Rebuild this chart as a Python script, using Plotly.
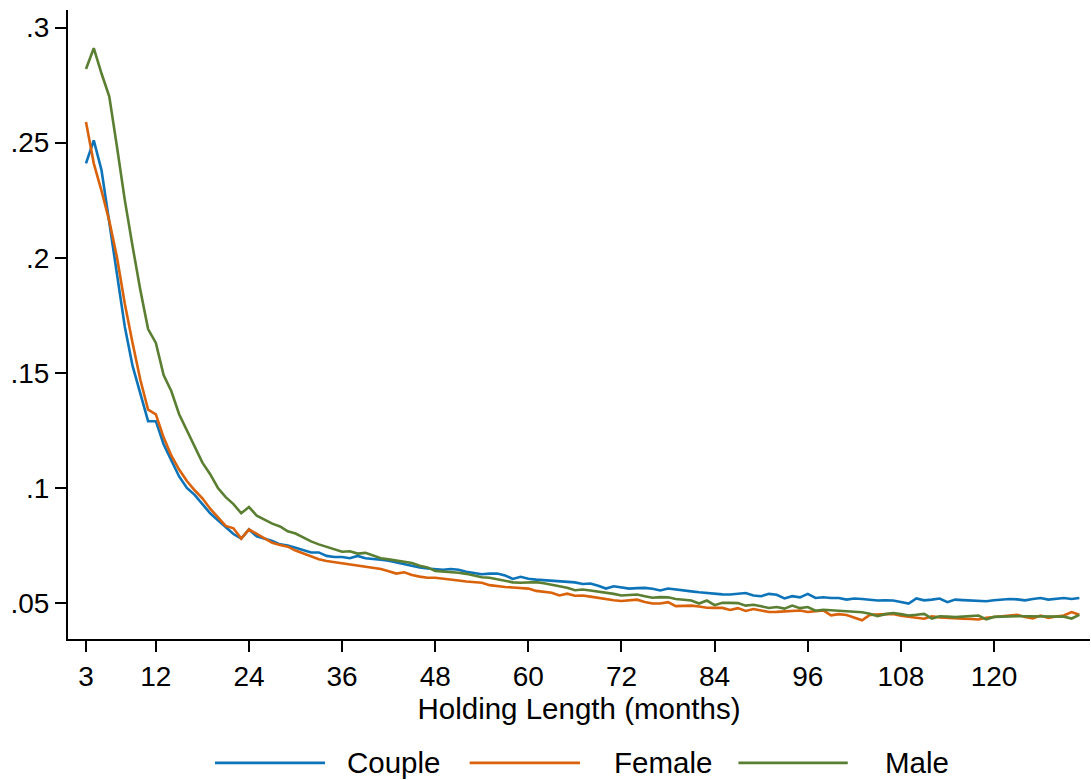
import plotly.graph_objects as go

months = list(range(3, 132))

couple = [
    0.241, 0.251, 0.238, 0.216, 0.193, 0.170, 0.153, 0.141, 0.129, 0.129,
    0.119, 0.112, 0.105, 0.100, 0.097, 0.093, 0.089, 0.086, 0.083, 0.080,
    0.078, 0.082, 0.079, 0.078, 0.077, 0.0755, 0.075, 0.074, 0.073, 0.072,
    0.072, 0.0705, 0.070, 0.070, 0.0695, 0.0705, 0.0695, 0.069, 0.0688, 0.0684,
    0.0677, 0.067, 0.066, 0.0655, 0.065, 0.0648, 0.0645, 0.0648, 0.0645, 0.0636,
    0.0632, 0.0625, 0.0628, 0.0628, 0.062, 0.0605, 0.0614, 0.0606, 0.0602, 0.060,
    0.0598, 0.0595, 0.0595, 0.059, 0.0583, 0.0585, 0.0575, 0.0563, 0.0573, 0.0568,
    0.0563, 0.0565, 0.0566, 0.0562, 0.0555, 0.0563, 0.0558, 0.0554, 0.0551, 0.0547,
    0.0543, 0.054, 0.0538, 0.0537, 0.0542, 0.0544, 0.0533, 0.053, 0.054, 0.0536,
    0.052, 0.053, 0.0525, 0.054, 0.0522, 0.0525, 0.0522, 0.0522, 0.0515, 0.052,
    0.0518, 0.0513, 0.0511, 0.0512, 0.0511, 0.0505, 0.0498, 0.052, 0.0512, 0.0515,
    0.052, 0.0504, 0.0515, 0.0513, 0.0512, 0.0508, 0.0508, 0.0512, 0.0515, 0.0518,
    0.0516, 0.0512, 0.0518, 0.0522, 0.0515, 0.0518, 0.0522, 0.0518, 0.0522,
]

female = [
    0.259, 0.241, 0.229, 0.216, 0.200, 0.180, 0.163, 0.147, 0.134, 0.132,
    0.122, 0.114, 0.108, 0.103, 0.099, 0.0955, 0.091, 0.087, 0.0835, 0.0825,
    0.078, 0.082, 0.080, 0.078, 0.0762, 0.0752, 0.0745, 0.0728, 0.0715, 0.0702,
    0.069, 0.0683, 0.0678, 0.0672, 0.0668, 0.0665, 0.066, 0.0652, 0.0648, 0.0638,
    0.0628, 0.0634, 0.0622, 0.0615, 0.061, 0.061, 0.0607, 0.0603, 0.0598, 0.0594,
    0.0592, 0.0588, 0.0578, 0.0573, 0.057, 0.0568, 0.0565, 0.0563, 0.0553, 0.055,
    0.0545, 0.0533, 0.0541, 0.0532, 0.0533, 0.0528, 0.0522, 0.0518, 0.0512, 0.0509,
    0.0512, 0.0515, 0.0505, 0.0498, 0.0498, 0.0504, 0.0487, 0.0488, 0.0489, 0.0485,
    0.048, 0.0479, 0.0479, 0.047, 0.0478, 0.0466, 0.0474, 0.0468, 0.0461, 0.0462,
    0.0464, 0.0466, 0.0468, 0.0461, 0.0465, 0.0468, 0.0447, 0.0452, 0.0448, 0.0437,
    0.0425, 0.0449, 0.0451, 0.0452, 0.0453, 0.0445, 0.0439, 0.0436, 0.0432, 0.0443,
    0.0438, 0.0435, 0.0433, 0.0432, 0.0431, 0.0429, 0.0436, 0.0439, 0.0443, 0.0446,
    0.0449, 0.044, 0.0433, 0.0446, 0.0436, 0.0442, 0.0446, 0.0461, 0.0449,
]

male = [
    0.282, 0.291, 0.280, 0.270, 0.248, 0.225, 0.205, 0.186, 0.169, 0.163,
    0.149, 0.142, 0.132, 0.125, 0.118, 0.111, 0.106, 0.100, 0.096, 0.093,
    0.089, 0.0917, 0.088, 0.0862, 0.0845, 0.0833, 0.0812, 0.0802, 0.0785, 0.0768,
    0.0755, 0.0745, 0.0735, 0.0723, 0.0725, 0.0715, 0.0718, 0.0705, 0.0695, 0.069,
    0.0684, 0.068, 0.0674, 0.0662, 0.0655, 0.064, 0.0638, 0.0636, 0.0632, 0.0627,
    0.0618, 0.0612, 0.061, 0.0604, 0.0597, 0.059, 0.0588, 0.0588, 0.0591, 0.0586,
    0.058, 0.0572, 0.0567, 0.0556, 0.0559, 0.0555, 0.0551, 0.0547, 0.054, 0.0533,
    0.0536, 0.0537, 0.053, 0.0523, 0.0526, 0.0525, 0.0518, 0.0513, 0.0511, 0.0498,
    0.0511, 0.0491, 0.0501, 0.0501, 0.05, 0.0489, 0.0493, 0.0486, 0.0479, 0.0483,
    0.0476, 0.0489, 0.0478, 0.0483, 0.0467, 0.0471, 0.0469, 0.0467, 0.0465, 0.0462,
    0.046, 0.0454, 0.0443, 0.0452, 0.0457, 0.0452, 0.0446, 0.0449, 0.0453, 0.0433,
    0.0443, 0.0441, 0.0439, 0.0441, 0.0444, 0.0446, 0.0429, 0.044, 0.0441, 0.0443,
    0.0443, 0.0443, 0.0443, 0.0443, 0.0444, 0.0443, 0.0441, 0.0433, 0.0449,
]

series_names = ["Couple", "Female", "Male"]
series_values = [couple, female, male]
colors = ["#0e74b9", "#d9620b", "#5b7f32"]

x_tickvals = [3, 12, 24, 36, 48, 60, 72, 84, 96, 108, 120]
y_tickvals = [0.05, 0.1, 0.15, 0.2, 0.25, 0.3]
y_ticktext = [".05", ".1", ".15", ".2", ".25", ".3"]
x_title = "Holding Length (months)"

FONT = "Liberation Sans, Arial, Helvetica, sans-serif"
FS = 28
FS_TITLE = 29.5

fig = go.Figure()
for name, vals, col in zip(series_names, series_values, colors):
    fig.add_trace(go.Scatter(
        x=months, y=vals, mode="lines", name=name,
        line=dict(color=col, width=2.6), showlegend=False,
    ))

# custom legend (long line samples like Stata)
leg_y = -0.197
leg_items = [(0.1438, 0.2515, 0.271), (0.393, 0.501, 0.532), (0.656, 0.763, 0.797)]
for (x0, x1, xt), name, col in zip(leg_items, series_names, colors):
    fig.add_shape(type="line", xref="paper", yref="paper", x0=x0, x1=x1,
                  y0=leg_y, y1=leg_y, line=dict(color=col, width=2.6))
    fig.add_annotation(xref="paper", yref="paper", x=xt, y=leg_y, text=name,
                       showarrow=False, xanchor="left", yanchor="middle",
                       font=dict(family=FONT, size=FS_TITLE, color="black"))

fig.update_layout(
    width=1091, height=780,
    margin=dict(l=68, r=1, t=10, b=141),
    paper_bgcolor="white", plot_bgcolor="white",
    font=dict(family=FONT, size=FS, color="black"),
)
fig.update_xaxes(
    range=[0.68, 132.37], tickvals=x_tickvals,
    showgrid=False, zeroline=False,
    showline=True, linecolor="black", linewidth=2,
    ticks="outside", ticklen=11, tickwidth=2, tickcolor="black",
    tickfont=dict(family=FONT, size=FS),
    title=dict(text=x_title, font=dict(family=FONT, size=FS_TITLE), standoff=0),
)
fig.update_yaxes(
    range=[0.0344, 0.3076], tickvals=y_tickvals, ticktext=y_ticktext,
    showgrid=False, zeroline=False,
    showline=True, linecolor="black", linewidth=2,
    ticks="outside", ticklen=11, tickwidth=2, tickcolor="black",
    tickfont=dict(family=FONT, size=FS),
)

fig.write_html("out.html")
